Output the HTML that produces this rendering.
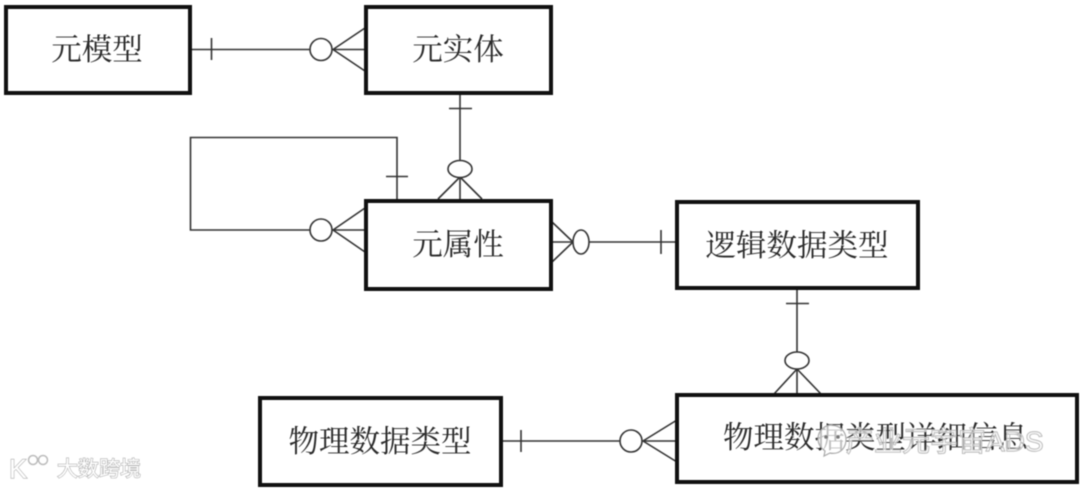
<!DOCTYPE html>
<html lang="zh">
<head>
<meta charset="utf-8">
<style>
html,body{margin:0;padding:0;background:#fff;width:1080px;height:489px;overflow:hidden}
svg{display:block;filter:blur(.5px)}
text{font-family:"Liberation Serif","Noto Serif CJK SC",serif;font-size:30.500px;fill:#2a2a2a;text-anchor:middle}
.b{fill:#fff;stroke:#111;stroke-width:4}
.l{fill:none;stroke:#333;stroke-width:1.6}
.c{fill:#fff;stroke:#333;stroke-width:1.6}
.w{font-family:"Liberation Sans","Noto Sans CJK SC",sans-serif;fill:#fff;stroke:#b0b0b0;stroke-width:1.200;paint-order:stroke;text-anchor:start}
</style>
</head>
<body>
<svg width="1080" height="489" viewBox="0 0 1080 489" xmlns="http://www.w3.org/2000/svg">
<g class="l">
<path d="M190 49.500H365M211.500 38V60M333 49.500L365 28M333 49.500L365 71"/>
<path d="M460 93V200M449 108.500H472M460 177L438 199M460 177L482 199"/>
<path d="M397 200V137.500H190.500V230H365M386 176.500H408M333 230L365 208M333 230L365 252"/>
<path d="M551 242H677M661 230V254M573 242L551 221M573 242L551 263"/>
<path d="M797 288V395M786 303.500H809M797 369L774 394M797 369L821 394"/>
<path d="M501 441H677M521 430V452M643 441L677 420M643 441L677 462"/>
</g>
<circle class="c" cx="321" cy="49.500" r="11"/>
<ellipse class="c" cx="460" cy="169" rx="12" ry="8.500"/>
<circle class="c" cx="321" cy="230" r="11"/>
<ellipse class="c" cx="581" cy="242" rx="8" ry="12"/>
<ellipse class="c" cx="797" cy="360.500" rx="12" ry="8.500"/>
<circle class="c" cx="631" cy="441" r="11"/>
<rect class="b" x="6" y="7" width="184" height="86"/>
<rect class="b" x="366" y="7" width="185" height="86"/>
<rect class="b" x="366" y="201" width="185" height="88"/>
<rect class="b" x="677" y="202" width="241" height="86"/>
<rect class="b" x="260" y="398" width="241" height="87"/>
<rect class="b" x="677" y="395" width="400" height="87"/>
<text x="97" y="60">元模型</text>
<text x="458" y="60">元实体</text>
<text x="458" y="255">元属性</text>
<text x="797" y="256">逻辑数据类型</text>
<text x="380" y="452">物理数据类型</text>
<text x="875.500" y="448">物理数据类型详细信息</text>
<path d="M832 425c-8 0-14 6-14 14 0 5 3 9 7 12l-1 5 6-3c1 .3 2 .4 3 .4 8 0 13-6 13-14s-6-14-14-14z" fill="#fff" fill-opacity=".7" stroke="#aaa" stroke-width="1.200"/>
<circle cx="826" cy="437" r="1.800" fill="#777"/>
<circle cx="838" cy="437" r="1.800" fill="#777"/>
<text class="w" x="846" y="451" style="font-size:28px;fill-opacity:.5">产业元宇宙ADS</text>
<text class="w" x="57" y="476" style="font-size:21px">大数跨境</text>
<text class="w" x="9" y="478" style="font-size:27px">K</text>
<circle cx="33" cy="460" r="4.500" fill="none" stroke="#bbb" stroke-width="1.500"/>
<circle cx="43" cy="460" r="4.500" fill="none" stroke="#bbb" stroke-width="1.500"/>
</svg>
</body>
</html>
